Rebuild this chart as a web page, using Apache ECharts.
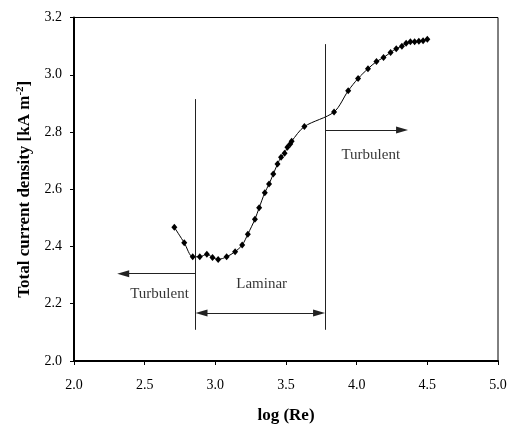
<!DOCTYPE html>
<html>
<head>
<meta charset="utf-8">
<script src="https://cdn.jsdelivr.net/npm/echarts@6/dist/echarts.min.js"></script>
<style>html,body{margin:0;padding:0;background:#fff}#c{width:508px;height:426px}</style>
</head>
<body>
<div id="c"></div>
<script>
var logRe = [2.71, 2.78, 2.84, 2.89, 2.94, 2.98, 3.02, 3.08, 3.14, 3.19, 3.23, 3.28, 3.31, 3.35, 3.38, 3.41, 3.44, 3.465, 3.49, 3.51, 3.53, 3.54, 3.63, 3.84, 3.94, 4.01, 4.08, 4.14, 4.19, 4.24, 4.28, 4.32, 4.35, 4.38, 4.41, 4.44, 4.47, 4.50];
var density = [2.467, 2.413, 2.364, 2.364, 2.373, 2.362, 2.355, 2.364, 2.382, 2.405, 2.443, 2.495, 2.535, 2.588, 2.618, 2.653, 2.688, 2.712, 2.726, 2.747, 2.758, 2.768, 2.819, 2.870, 2.944, 2.987, 3.021, 3.046, 3.060, 3.078, 3.091, 3.100, 3.110, 3.115, 3.115, 3.117, 3.119, 3.124];
var xTicks = [2.0, 2.5, 3.0, 3.5, 4.0, 4.5, 5.0];
var yTicks = [2.0, 2.2, 2.4, 2.6, 2.8, 3.0, 3.2];
var boundaryLow = 2.86, boundaryHigh = 3.776;
var labels = [
  {x: 2.605, y: 2.234, text: 'Turbulent'},
  {x: 3.328, y: 2.269, text: 'Laminar'},
  {x: 4.10, y: 2.72, text: 'Turbulent'}
];

var serif = '"Liberation Serif", "Times New Roman", serif';
var chart = echarts.init(document.getElementById('c'));
var lineStyleGray = {color: '#222', width: 1, type: 'solid'};
var ARROW_LEN = 12;
function seg(a, b, s1, s2) {
  return [{coord: a, symbol: s1}, {coord: b, symbol: s2}];
}
chart.setOption({
  animation: false,
  grid: {left: 74, right: 10, top: 17.5, bottom: 65, show: true, borderColor: '#000', borderWidth: 1,
    containLabel: false, outerBoundsMode: 'none'},
  xAxis: {
    type: 'value', min: xTicks[0], max: xTicks[xTicks.length - 1], interval: 0.5,
    name: 'log (Re)', nameLocation: 'middle', nameGap: 46,
    nameTextStyle: {fontFamily: serif, fontWeight: 'bold', fontSize: 17, color: '#000'},
    axisLine: {show: true, lineStyle: {color: '#000', width: 2}},
    axisTick: {show: true, length: 4, lineStyle: {color: '#000'}},
    axisLabel: {fontFamily: serif, fontSize: 14, color: '#000', margin: 17,
      formatter: function (v) { return v.toFixed(1); }},
    splitLine: {show: false}
  },
  yAxis: {
    type: 'value', min: yTicks[0], max: yTicks[yTicks.length - 1], interval: 0.2,
    name: '{a|Total current density [kA m}{s|-2}{a|]}', nameLocation: 'middle', nameGap: 40,
    nameTextStyle: {fontFamily: serif, fontWeight: 'bold', fontSize: 17, color: '#000',
      rich: {a: {fontFamily: serif, fontWeight: 'bold', fontSize: 17, color: '#000'},
             s: {fontFamily: serif, fontWeight: 'bold', fontSize: 11, color: '#000', verticalAlign: 'top', padding: [0, 0, 8, 0]}}},
    axisLine: {show: true, lineStyle: {color: '#000', width: 2}},
    axisTick: {show: true, length: 4, lineStyle: {color: '#000'}},
    axisLabel: {fontFamily: serif, fontSize: 14, color: '#000', margin: 12,
      formatter: function (v) { return v.toFixed(1); }},
    splitLine: {show: false}
  },
  series: [
    {
      type: 'line', smooth: 0.3,
      data: logRe.map(function (x, i) { return [x, density[i]]; }),
      symbol: 'diamond', symbolSize: [6, 7],
      itemStyle: {color: '#000'},
      lineStyle: {color: '#000', width: 1}
    },
    {
      type: 'scatter', data: [], silent: true,
      markLine: {
        silent: true, animation: false,
        symbolSize: [7, ARROW_LEN],
        label: {show: false},
        lineStyle: lineStyleGray,
        data: [
          seg([boundaryLow, 2.915], [boundaryLow, 2.109], 'none', 'none'),
          seg([boundaryHigh, 3.107], [boundaryHigh, 2.109], 'none', 'none'),
          seg([boundaryLow, 2.305], [2.348, 2.305], 'none', 'triangle'),
          seg([boundaryHigh, 2.807], [4.321, 2.807], 'none', 'triangle'),
          seg([boundaryLow + 0.042, 2.168], [boundaryHigh - 0.042, 2.168], 'triangle', 'triangle')
        ]
      }
    },
    {
      type: 'scatter', symbolSize: 0, silent: true,
      data: labels.map(function (l) { return {value: [l.x, l.y], name: l.text}; }),
      label: {show: true, position: 'inside', formatter: '{b}', fontFamily: serif, fontSize: 15, color: '#000'}
    }
  ]
});
</script>
</body>
</html>
